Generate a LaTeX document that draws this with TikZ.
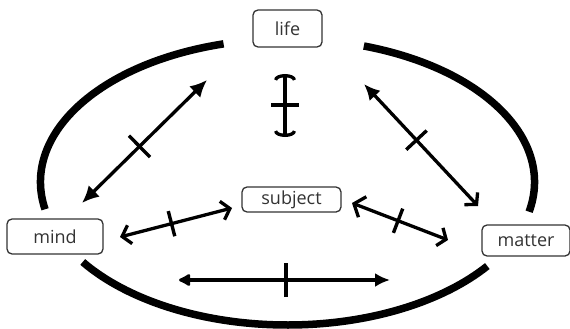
\documentclass[tikz,border=0pt]{standalone}
\usepackage{fontspec}
\setmainfont{Open Sans}
\usetikzlibrary{arrows.meta,decorations.markings}
\begin{document}
\begin{tikzpicture}[x=1pt,y=-1pt,
  box/.style={draw=black!80, line width=1.3pt, rounded corners=5pt, text=black!80,
              font=\fontsize{18}{20}\selectfont, inner sep=0pt},
  rim/.style={line width=7.5pt},
  link/.style={line width=3.3pt},
  tickmark/.style args={#1 at #2}{postaction={decorate, decoration={markings,
      mark=at position #2 with {\draw[line width=3.4pt, arrows=-] (0,-#1) -- (0,#1);}}}}
]
\useasboundingbox[fill=white] (0,0) rectangle (570,329);

% nodes
\node[box, minimum width=69pt, minimum height=37pt] (life) at (287.5,28.5) {life};
\node[box, minimum width=99pt, minimum height=25pt] (subject) at (291.5,199.5) {subject};
\node[box, minimum width=96pt, minimum height=35pt] (mind) at (55,236.5) {mind};
\node[box, minimum width=88pt, minimum height=31pt] (matter) at (526,240.5) {matter};

% outer ellipse arcs
\coordinate (ell) at (287.5,182);
\draw[rim] ([shift={(105:247pt and 143pt)}]ell) arc[start angle=105,end angle=191,x radius=247pt,y radius=143pt];
\draw[rim] ([shift={(72:247pt and 143pt)}]ell) arc[start angle=72,end angle=-12,x radius=247pt,y radius=143pt];
\draw[rim] ([shift={(214:247pt and 143pt)}]ell) arc[start angle=214,end angle=324,x radius=247pt,y radius=143pt];

% connector end points
\coordinate (ml1) at (82,203);  \coordinate (ml2) at (207,80);
\coordinate (ls1) at (285,74);  \coordinate (ls2) at (285,137);
\coordinate (lm1) at (364,84);  \coordinate (lm2) at (478,206);
\coordinate (ms1) at (120,237); \coordinate (ms2) at (232,208);
\coordinate (sm1) at (352,203); \coordinate (sm2) at (448,240);
\coordinate (mm1) at (179,280); \coordinate (mm2) at (390,280);

% connectors
\draw[link, {Latex[length=17pt,width=16pt]}-{Latex[length=17pt,width=16pt]}, tickmark={15pt at 0.46}] (ml1) -- (ml2);
\draw[link, {Arc Barb[length=6pt,width=22pt]}-{Arc Barb[length=6pt,width=22pt]}, tickmark={14pt at 0.49}] (ls1) -- (ls2);
\draw[link, {Latex[length=16pt,width=15pt]}-{Straight Barb[length=8pt,width=18pt]}, tickmark={14pt at 0.46}] (lm1) -- (lm2);
\draw[link, {Straight Barb[length=8pt,width=19pt]}-{Straight Barb[length=8pt,width=19pt]}, tickmark={13pt at 0.46}] (ms1) -- (ms2);
\draw[link, {Straight Barb[length=9pt,width=22pt]}-{Straight Barb[length=7pt,width=19pt]}, tickmark={13pt at 0.48}] (sm1) -- (sm2);
\draw[link, {Latex[round,length=14pt,width=15pt]}-{Latex[length=15pt,width=14pt]}, tickmark={17pt at 0.507}] (mm1) -- (mm2);
\end{tikzpicture}
\end{document}
